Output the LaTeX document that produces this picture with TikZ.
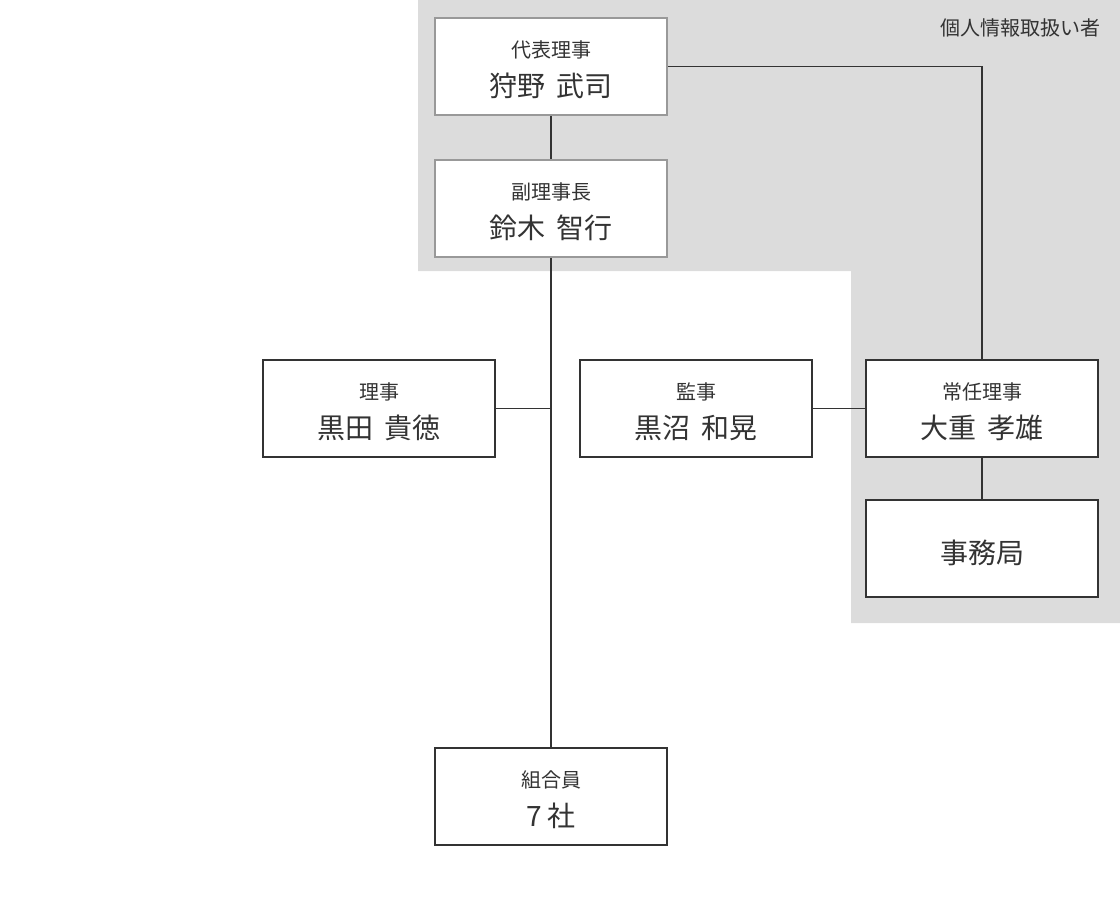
\documentclass[tikz,border=0pt]{standalone}
\usepackage{fontspec}
\setmainfont{Noto Sans CJK JP}
\usepackage{tikz}
\usetikzlibrary{calc}
\definecolor{ink}{HTML}{333333}
\definecolor{frame}{HTML}{999999}
\definecolor{zone}{HTML}{DCDCDC}
\newcommand{\namefont}{\fontsize{21}{29}\selectfont}
\newcommand{\gap}{\hspace{0.4em}}
\newcommand{\lift}{\rule{0pt}{17.5pt}}
\tikzset{
  every node/.style={text=ink},
  post/.style={draw=ink,line width=1.5pt,fill=white,align=center,minimum width=174pt,minimum height=72.75pt,inner sep=0pt,font=\fontsize{15}{29}\selectfont},
  toppost/.style={post,draw=frame},
  wire/.style={draw=ink,line width=1.1pt},
  zonelabel/.style={font=\fontsize{15}{18}\selectfont,inner sep=0pt}
}
\begin{document}
\begin{tikzpicture}[x=0.75pt,y=-0.75pt]
  \useasboundingbox (0,0) rectangle (1120,900);
  \fill[zone] (418,0) -- (1120,0) -- (1120,623) -- (851,623) -- (851,271) -- (418,271) -- cycle;
  \node[zonelabel,anchor=east] (scope) at (1101,28) {個人情報取扱い者};

  \node[toppost] (rep) at (551,66.5) {\lift 代表理事\\{\namefont 狩野\gap 武司}};
  \node[toppost] (vice) at (551,208.5) {\lift 副理事長\\{\namefont 鈴木\gap 智行}};
  \node[post] (riji) at (379,408.5) {\lift 理事\\{\namefont 黒田\gap 貴徳}};
  \node[post] (kanji) at (696,408.5) {\lift 監事\\{\namefont 黒沼\gap 和晃}};
  \node[post] (jonin) at (982,408.5) {\lift 常任理事\\{\namefont 大重\gap 孝雄}};
  \node[post] (jimu) at (982,548.5) {\namefont\rule{0pt}{24pt}事務局};
  \node[post] (members) at (551,796.5) {\lift 組合員\\{\namefont 7 社}};

  \draw[wire] (rep) -- (vice);
  \draw[wire] (vice) -- (members);
  \draw[wire] (rep.east) -| (jonin.north);
  \draw[wire] (riji.east) -- (riji.east -| vice.south);
  \draw[wire] (kanji) -- (jonin);
  \draw[wire] (jonin) -- (jimu);
\end{tikzpicture}
\end{document}
